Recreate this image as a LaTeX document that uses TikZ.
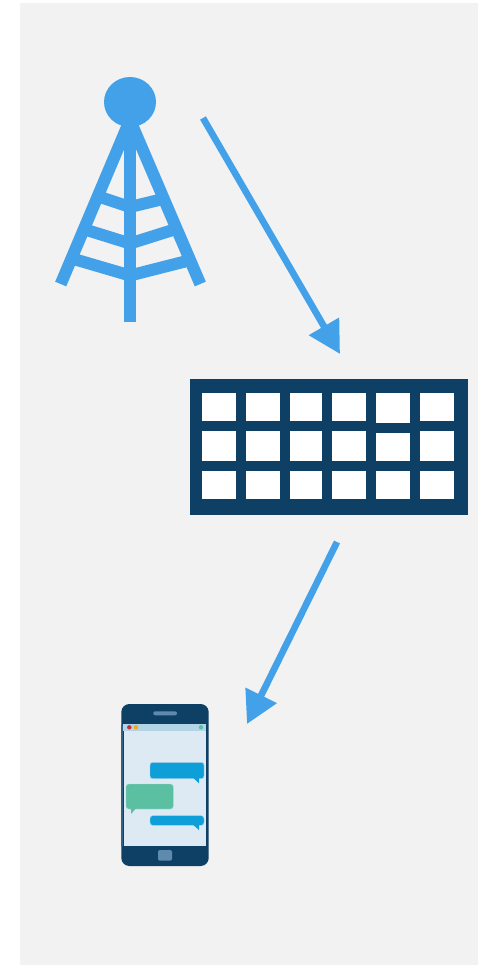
\documentclass[tikz,border=0pt]{standalone}
\usepackage{tikz}
\usetikzlibrary{arrows.meta}
\definecolor{skyblue}{RGB}{66,161,232}
\definecolor{navyblue}{RGB}{14,64,102}
\definecolor{softgray}{RGB}{242,242,242}
\definecolor{screenblue}{RGB}{221,234,244}
\definecolor{barblue}{RGB}{179,211,230}
\definecolor{greyblue}{RGB}{95,138,173}
\definecolor{edgeblue}{RGB}{50,98,136}
\definecolor{bubbleblue}{RGB}{15,159,216}
\definecolor{bubblegreen}{RGB}{91,191,162}
\definecolor{dotred}{RGB}{190,50,60}
\definecolor{dotorange}{RGB}{245,170,20}

\begin{document}
\begin{tikzpicture}[
        x=0.75pt, y=-0.75pt,
        arrow/.style={draw=skyblue, line width=5pt, -{Triangle[length=24pt, width=25pt]}},
        beam/.style={draw=skyblue, line width=9pt},
        cell/.style={fill=white},
        bubble/.style={rounded corners=2pt, draw=barblue, line width=0.3pt}
    ]
        \useasboundingbox (0,0) rectangle (487,965);
        \fill[white] (0,0) rectangle (487,965);
        \fill[softgray] (20,3) rectangle (478,965);

        % tower
        \fill[skyblue] (130,102) ellipse (26 and 25);
        \draw[beam] (60.7,284) -- (130,120) -- (200.3,284);
        \draw[beam] (130,112) -- (130,322);
        \draw[beam] (98.5,196.5) -- (130,207) -- (163,199);
        \draw[beam] (85,229.5) -- (130,243.5) -- (176,229);
        \draw[beam] (72,258.5) -- (130,275.5) -- (189,260.5);

        % panel
        \fill[navyblue] (190,379) rectangle (468,515);
        \foreach \xa/\xb in {202/236, 246/280, 290/322, 332/366, 420/454} {
            \fill[cell] (\xa,393) rectangle (\xb,421);
            \fill[cell] (\xa,431) rectangle (\xb,461);
            \fill[cell] (\xa,471) rectangle (\xb,499);
        }
        \fill[cell] (376,393) rectangle (410,423);
        \fill[cell] (376,433) rectangle (410,461);
        \fill[cell] (376,471) rectangle (410,499);

        % phone
        \fill[navyblue, rounded corners=6pt] (121.3,704) rectangle (208.7,866);
        \fill[edgeblue] (121.3,725) rectangle (123,846);
        \fill[screenblue] (124,731) rectangle (206,845.7);
        \fill[barblue] (123,724) rectangle (206,731);
        \fill[dotred] (129.3,727.3) circle (2.2);
        \fill[dotorange] (136,727.3) circle (2.2);
        \fill[bubblegreen] (201,727.3) circle (2.2);
        \fill[greyblue, rounded corners=1.5pt] (153.3,711.3) rectangle (177,715.3);
        \fill[greyblue, rounded corners=1.5pt] (158,850) rectangle (172,860.7);
        \filldraw[bubble, fill=bubbleblue] (150,762.3) rectangle (204,778.7);
        \fill[bubbleblue] (193.3,778) -- (199,783.3) -- (199,778) -- cycle;
        \filldraw[bubble, fill=bubblegreen] (126,784) rectangle (173.3,809);
        \fill[bubblegreen] (131,808) -- (131,814) -- (136.3,808) -- cycle;
        \filldraw[bubble, fill=bubbleblue] (150,815.7) rectangle (204,825.3);
        \fill[bubbleblue] (193.3,825) -- (199,830) -- (199,825) -- cycle;

        \coordinate (towerout) at (203,118);
        \coordinate (panelin) at (340,354);
        \coordinate (panelout) at (337,542);
        \coordinate (phonein) at (247,724);

        \path [arrow] (towerout) -- (panelin);
        \path [arrow] (panelout) -- (phonein);
    \end{tikzpicture}
\end{document}
